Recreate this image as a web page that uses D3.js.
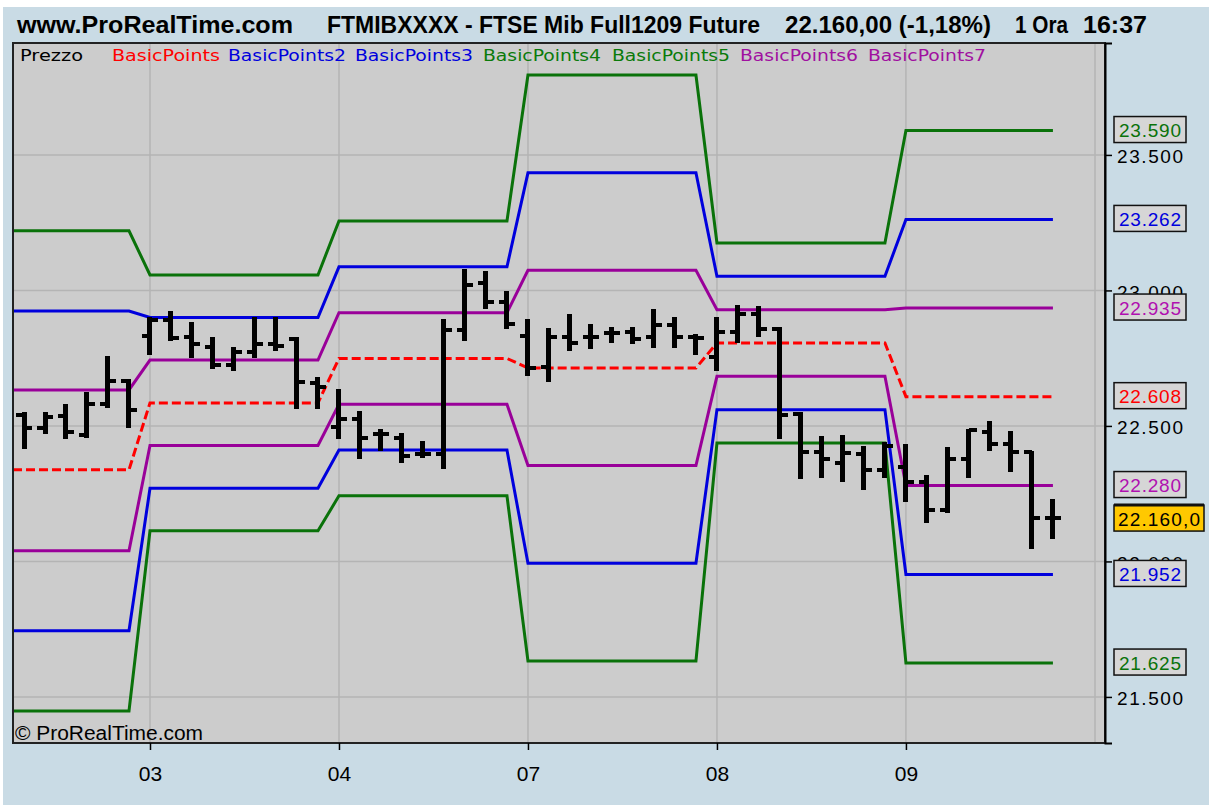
<!DOCTYPE html>
<html>
<head>
<meta charset="utf-8">
<script src="https://cdn.jsdelivr.net/npm/d3@7.9.0/dist/d3.min.js"></script>
<style>
  body { margin: 0; background: #fff; }
  svg { display: block; }
</style>
</head>
<body>
<div id="chart"></div>
<script>
// hourly bars, day by day (02: 6 bars, 03/04/07/08: 9 bars, 09: 8 bars)
const dayLabels = ['03', '04', '07', '08', '09'];
const dayFirstBar = [6, 15, 24, 33, 42];
const barsPerDay = [6, 9, 9, 9, 9, 8];

const opens = [22541, 22493, 22537, 22467, 22581, 22666,
  22832, 22891, 22828, 22792, 22725, 22773, 22803, 22821, 22659,
  22496, 22526, 22470, 22456, 22397, 22397, 22854, 23028, 22958,
  22832, 22718, 22828, 22828, 22843, 22847, 22828, 22873, 22828,
  22755, 22847, 22913, 22858, 22544, 22404, 22363, 22397, 22338,
  22349, 22293, 22190, 22378, 22478, 22434, 22404, 22160];
const highs = [22548, 22548, 22578, 22622, 22755, 22670,
  22899, 22921, 22880, 22825, 22788, 22899, 22899, 22825, 22677,
  22633, 22552, 22485, 22470, 22441, 22891, 23076, 23068, 22994,
  22891, 22858, 22910, 22873, 22862, 22862, 22928, 22899, 22836,
  22899, 22943, 22939, 22862, 22548, 22459, 22463, 22423, 22437,
  22430, 22316, 22419, 22485, 22515, 22478, 22404, 22227];
const lows = [22419, 22474, 22456, 22459, 22570, 22496,
  22766, 22817, 22755, 22714, 22707, 22755, 22780, 22566, 22566,
  22456, 22382, 22411, 22367, 22386, 22345, 22817, 22935, 22862,
  22688, 22666, 22780, 22788, 22810, 22806, 22792, 22792, 22766,
  22707, 22810, 22832, 22456, 22308, 22312, 22297, 22268, 22312,
  22223, 22146, 22183, 22312, 22411, 22334, 22050, 22087];
const closes = [22493, 22533, 22478, 22581, 22666, 22559,
  22891, 22825, 22803, 22725, 22773, 22803, 22795, 22662, 22644,
  22526, 22456, 22470, 22389, 22397, 22854, 23020, 22958, 22876,
  22714, 22828, 22806, 22828, 22843, 22821, 22873, 22828, 22825,
  22847, 22913, 22858, 22541, 22404, 22378, 22400, 22338, 22426,
  22293, 22190, 22378, 22485, 22434, 22404, 22160, 22160];

// daily pivot levels (one value per day: 02, 03, 04, 07, 08, 09)
const basicPoints  = [22338, 22585, 22749, 22714, 22806, 22608];
const basicPoints2 = [22924, 22900, 23087, 23434, 23052, 23262];
const basicPoints3 = [21744, 22270, 22411, 21993, 22560, 21952];
const basicPoints4 = [23220, 23057, 23256, 23795, 23175, 23590];
const basicPoints5 = [21448, 22113, 22242, 21633, 22437, 21625];
const basicPoints6 = [22633, 22743, 22918, 23074, 22929, 22935];
const basicPoints7 = [22039, 22428, 22580, 22354, 22683, 22280];

const yTicks = [21500, 22000, 22500, 23000, 23500];
const lastPrice = 22160;

const series = [
  { name: 'BasicPoints', values: basicPoints, color: '#ff0000', dash: '9,4' },
  { name: 'BasicPoints2', values: basicPoints2, color: '#0000dd' },
  { name: 'BasicPoints3', values: basicPoints3, color: '#0000dd' },
  { name: 'BasicPoints4', values: basicPoints4, color: '#0a720a' },
  { name: 'BasicPoints5', values: basicPoints5, color: '#0a720a' },
  { name: 'BasicPoints6', values: basicPoints6, color: '#990099' },
  { name: 'BasicPoints7', values: basicPoints7, color: '#990099' },
];

const width = 1209, height = 805;
const plot = { left: 13, right: 1105, top: 43, bottom: 743 };

const it = d3.formatLocale({ decimal: ',', thousands: '.', grouping: [3], currency: ['', '€'] });
const fmt0 = it.format(',.0f');
const fmt1 = it.format(',.1f');

const bars = opens.map((o, i) => ({ i, o, h: highs[i], l: lows[i], c: closes[i] }));
// day index of every bar
const dayOfBar = [];
barsPerDay.forEach((n, k) => { for (let j = 0; j < n; j++) dayOfBar.push(k); });

const x = d3.scaleLinear().domain([-0.524, 51.48]).range([plot.left, plot.right]);
const y = d3.scaleLinear().domain([21330, 23913]).range([plot.bottom, plot.top]);

const svg = d3.select('#chart').append('svg')
  .attr('width', width).attr('height', height);

svg.append('rect').attr('x', 3).attr('y', 7).attr('width', width - 3).attr('height', height - 7)
  .attr('fill', '#c9dbe5');

// title
const titleFont = '"Liberation Sans Narrow", "Liberation Sans", Arial, sans-serif';
const titles = [
  { t: 'www.ProRealTime.com', x: 17, w: 276 },
  { t: 'FTMIBXXXX - FTSE Mib Full1209 Future', x: 327, w: 433 },
  { t: '22.160,00 (-1,18%)', x: 785, w: 206 },
  { t: '1 Ora', x: 1015, w: 53 },
  { t: '16:37', x: 1083, w: 64 },
];
svg.append('g').selectAll('text').data(titles).join('text')
  .attr('x', (d) => d.x).attr('y', 33)
  .attr('textLength', (d) => d.w).attr('lengthAdjust', 'spacingAndGlyphs')
  .style('font-family', titleFont).style('font-weight', 'bold').style('font-size', '23px')
  .attr('fill', '#000').text((d) => d.t);

// plot background
svg.append('rect')
  .attr('x', plot.left).attr('y', plot.top)
  .attr('width', plot.right - plot.left).attr('height', plot.bottom - plot.top)
  .attr('fill', '#cccccc');

// gridlines
const grid = svg.append('g').attr('stroke', '#b4b4b4').attr('stroke-width', 1.5);
grid.selectAll('.hg').data(yTicks).join('line').attr('class', 'hg')
  .attr('x1', plot.left).attr('x2', plot.right)
  .attr('y1', (d) => y(d)).attr('y2', (d) => y(d));
grid.selectAll('.vg').data(dayFirstBar).join('line').attr('class', 'vg')
  .attr('x1', (d) => x(d)).attr('x2', (d) => x(d))
  .attr('y1', plot.top).attr('y2', plot.bottom);
grid.append('line').attr('x1', 1095).attr('x2', 1095).attr('y1', plot.top).attr('y2', plot.bottom);

// pivot lines
const line = d3.line().x((d) => x(d[0])).y((d) => y(d[1]));
series.forEach((s) => {
  const pts = [[-0.524, s.values[0]]].concat(bars.map((b) => [b.i, s.values[dayOfBar[b.i]]]));
  svg.append('path').datum(pts)
    .attr('d', line)
    .attr('fill', 'none')
    .attr('stroke', s.color)
    .attr('stroke-width', 3)
    .attr('stroke-dasharray', s.dash || null);
});

// OHLC bars
const barG = svg.append('g').attr('stroke', '#000').attr('shape-rendering', 'crispEdges');
barG.selectAll('.hl').data(bars).join('line').attr('class', 'hl')
  .attr('x1', (d) => x(d.i)).attr('x2', (d) => x(d.i))
  .attr('y1', (d) => y(d.h) - 1).attr('y2', (d) => y(d.l) + 1)
  .attr('stroke-width', 5);
barG.selectAll('.op').data(bars).join('line').attr('class', 'op')
  .attr('x1', (d) => x(d.i) - 8).attr('x2', (d) => x(d.i))
  .attr('y1', (d) => y(d.o)).attr('y2', (d) => y(d.o))
  .attr('stroke-width', 4);
barG.selectAll('.cl').data(bars).join('line').attr('class', 'cl')
  .attr('x1', (d) => x(d.i)).attr('x2', (d) => x(d.i) + 8)
  .attr('y1', (d) => y(d.c)).attr('y2', (d) => y(d.c))
  .attr('stroke-width', 4);

// legend
const legendFont = '"DejaVu Sans", Verdana, sans-serif';
const legend = [{ name: 'Prezzo', color: '#000', x: 20, w: 63 }].concat(
  series.map((s, k) => ({ name: s.name, color: s.color === '#990099' ? '#a010a0' : s.color,
    x: [112, 228, 355, 483, 612, 740, 868][k], w: k === 0 ? 108 : 118 })));
svg.append('g').selectAll('text').data(legend).join('text')
  .attr('x', (d) => d.x).attr('y', 61)
  .attr('textLength', (d) => d.w).attr('lengthAdjust', 'spacingAndGlyphs')
  .style('font-family', legendFont).style('font-size', '15px')
  .attr('fill', (d) => d.color === '#0a720a' ? '#0a7a0a' : d.color)
  .text((d) => d.name);

// copyright
svg.append('text').attr('x', 15).attr('y', 740)
  .attr('textLength', 188).attr('lengthAdjust', 'spacingAndGlyphs')
  .style('font-family', titleFont).style('font-size', '20px')
  .text('\u00a9 ProRealTime.com');

// frame
svg.append('rect')
  .attr('x', plot.left).attr('y', plot.top)
  .attr('width', plot.right - plot.left).attr('height', plot.bottom - plot.top)
  .attr('fill', 'none').attr('stroke', '#222').attr('stroke-width', 2);

// axes
const axisFont = '"Liberation Sans", Arial, sans-serif';
const yAxis = svg.append('g').attr('transform', `translate(${plot.right},0)`)
  .call(d3.axisRight(y).tickValues(yTicks).tickSize(7).tickPadding(5).tickFormat(fmt0));
yAxis.select('.domain').attr('stroke', '#000').attr('stroke-width', 2);
yAxis.selectAll('.tick line').attr('stroke', '#000').attr('stroke-width', 1.5);
yAxis.selectAll('.tick text')
  .attr('fill', '#000').attr('dy', '0.4em')
  .attr('textLength', 66).attr('lengthAdjust', 'spacing')
  .style('font-family', axisFont).style('font-size', '19px');

const xAxis = svg.append('g').attr('transform', `translate(0,${plot.bottom})`)
  .call(d3.axisBottom(x).tickValues(dayFirstBar).tickSize(7).tickPadding(16)
    .tickFormat((d, i) => dayLabels[i]));
xAxis.select('.domain').remove();
xAxis.selectAll('.tick line').attr('stroke', '#000').attr('stroke-width', 1.5);
xAxis.selectAll('.tick text')
  .attr('fill', '#000')
  .style('font-family', titleFont).style('font-size', '21px');

// value boxes at the right (they cover the 22.000 / 23.000 tick labels, as in the original)
const boxes = series.map((s) => ({ v: s.values[s.values.length - 1], color: s.color === '#990099' ? '#b010b0' : s.color }));
const boxG = svg.append('g');
boxes.forEach((b) => {
  const cy = y(b.v) - 1;
  boxG.append('rect').attr('x', 1114).attr('y', cy - 13).attr('width', 72).attr('height', 26)
    .attr('fill', '#d6d6d6').attr('stroke', '#111').attr('stroke-width', 1.5);
  boxG.append('text').attr('x', 1150).attr('y', cy + 7.5).attr('text-anchor', 'middle')
    .attr('textLength', 62).attr('lengthAdjust', 'spacing')
    .style('font-family', axisFont).style('font-size', '19px')
    .attr('fill', b.color).text(fmt0(b.v));
});
const ly = y(lastPrice);
boxG.append('rect').attr('x', 1114).attr('y', ly - 13).attr('width', 90).attr('height', 26)
  .attr('fill', '#ffc800').attr('stroke', '#111').attr('stroke-width', 1.5);
boxG.append('line').attr('x1', 1114).attr('x2', 1204).attr('y1', ly - 13).attr('y2', ly - 13)
  .attr('stroke', '#111').attr('stroke-width', 3);
boxG.append('text').attr('x', 1159).attr('y', ly + 7.5).attr('text-anchor', 'middle')
  .attr('textLength', 82).attr('lengthAdjust', 'spacing')
  .style('font-family', axisFont).style('font-size', '19px')
  .attr('fill', '#000').text(fmt1(lastPrice));
</script>
</body>
</html>
